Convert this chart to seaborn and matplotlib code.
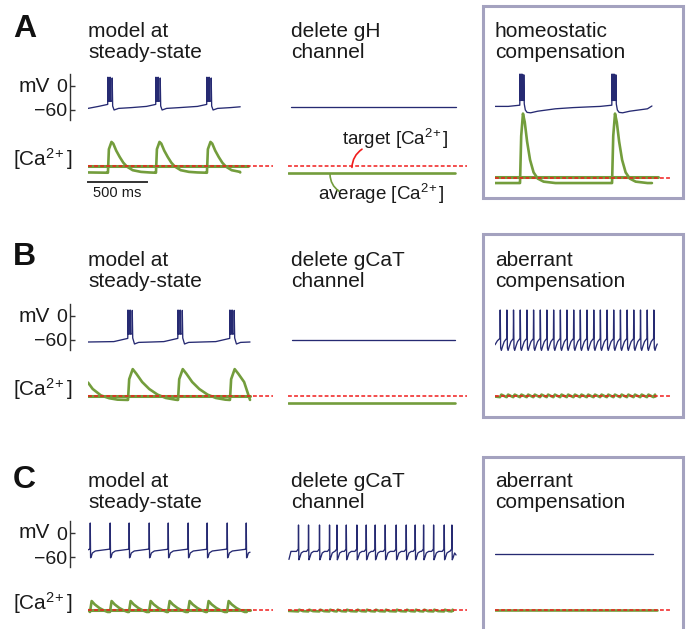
import numpy as np
import matplotlib.pyplot as plt
from matplotlib.patches import Rectangle
import seaborn as sns

sns.set_theme(style='white')
plt.rcParams['font.family'] = ['Liberation Sans', 'DejaVu Sans']
plt.rcParams['mathtext.fontset'] = 'custom'
plt.rcParams['mathtext.rm'] = 'Liberation Sans'
plt.rcParams['mathtext.default'] = 'regular'

W, H = 694, 629
PX_PER_MS = 0.118   # 500 ms ~ 59 px
PX_PER_MV = 0.4
PX_PER_CA = 28.0

NAVY = '#262a72'
GREEN = '#739d3c'
RED = '#f01c1c'
BOX = '#a4a2bf'

# ---------------- data (ms, mV, Ca relative to target) ----------------
CA2 = '[Ca$^{2\\!+}$]'
titles = {
    'A': ['model at\nsteady-state', 'delete gH\nchannel', 'homeostatic\ncompensation'],
    'B': ['model at\nsteady-state', 'delete gCaT\nchannel', 'aberrant\ncompensation'],
    'C': ['model at\nsteady-state', 'delete gCaT\nchannel', 'aberrant\ncompensation'],
}

# A: model at steady-state
A1_bursts = [169, 576, 1008]
A1_v_dt = [-80, -2, 0, 3, 16, 18, 21, 34, 36, 40, 52, 90, 200]
A1_v_mv = [-51, -46, 22, -38, -38, 22, -38, -38, 20, -50, -60, -56, -54]
A1_v_start, A1_v_end = [(0, -56)], (1290, -52)
A1_ca_dt = [-5, 0, 8, 30, 45, 70, 100, 130, 160, 210, 280, 350]
A1_ca_val = [0.76, 0.76, 1.6, 1.86, 1.8, 1.55, 1.32, 1.12, 0.98, 0.85, 0.79, 0.77]
A1_ca_start, A1_ca_end = [(0, 0.77)], (1290, 0.77)
A1_avg = (1.0, 1360)

# A: delete gH
A2_v_t, A2_v_mv = [25, 1424], [-52.5, -52.5]
A2_ca_t, A2_ca_val = [0, 1415], [0.75, 0.75]

# A: homeostatic compensation
A3_bursts = [212, 992]
A3_v_dt = [-100, -2, 0, 3, 14, 16, 19, 30, 32, 36, 45, 60, 90, 150, 300, 450, 600]
A3_v_mv = [-51, -48, 30, -36, -36, 30, -36, -36, 28, -45, -60, -66, -67, -63, -57, -54, -52]
A3_v_start, A3_v_end = [(0, -51)], (1330, -50)
A3_ca_dt = [-5, 0, 10, 25, 40, 60, 85, 115, 150, 200, 300]
A3_ca_val = [0.82, 0.82, 2.5, 3.3, 3.0, 2.3, 1.65, 1.2, 0.98, 0.87, 0.82]
A3_ca_start, A3_ca_end = [(0, 0.82)], (1330, 0.82)
A3_avg = (1.05, 1380)

# B: model at steady-state
B1_bursts = [339, 763, 1203]
B1_v_dt = [-120, -2, 0, 3, 16, 18, 21, 34, 36, 40, 55, 90, 200]
B1_v_mv = [-64, -56, 15, -45, -45, 15, -45, -45, 14, -55, -70, -66, -65]
B1_v_start, B1_v_end = [(0, -65)], (1373, -65)
B1_ca_dt = [-5, 0, 10, 40, 70, 120, 180, 250, 320, 400]
B1_ca_val = [0.86, 0.86, 1.6, 1.96, 1.8, 1.5, 1.25, 1.05, 0.93, 0.87]
B1_ca_start = [(0, 1.48), (40, 1.25), (110, 1.02), (180, 0.92), (250, 0.87)]
B1_ca_end = (1373, 0.86)
B1_avg = (1.0, 1373)

# B: delete gCaT
B2_v_t, B2_v_mv = [34, 1415], [-60, -60]
B2_ca_t, B2_ca_val = [0, 1415], [0.75, 0.75]

# B: aberrant compensation (tonic firing)
B3_spikes = [42, 99, 155, 212, 269, 325, 382, 438, 495, 552, 608, 665,
             721, 778, 835, 891, 948, 1004, 1061, 1118, 1174, 1231, 1288, 1344]
B3_v_dt = [0, 2, 6, 12, 22, 36, 52]
B3_v_mv = [-56, 15, -80, -86, -76, -64, -58]
B3_v_start, B3_v_end = [(0, -72), (20, -62)], (1375, -70)
B3_ca_dt = [0, 12, 50]
B3_ca_val = [0.96, 1.05, 0.97]
B3_ca_start, B3_ca_end = [(0, 0.98)], (1360, 0.98)

# C: model at steady-state
C1_spikes = [17, 186, 347, 517, 678, 847, 1008, 1178, 1339]
C1_v_dt = [0, 2, 5, 10, 20, 45, 150]
C1_v_mv = [-40, 25, -62, -60, -50, -45, -41]
C1_v_start, C1_v_end = [(0, -42)], (1373, -48)
C1_ca_dt = [0, 14, 40, 80, 120, 150]
C1_ca_val = [0.93, 1.32, 1.2, 1.07, 0.98, 0.93]
C1_ca_start, C1_ca_end = [(0, 1.0)], (1345, 0.93)
C1_avg = (1.0, 1373)

# C: delete gCaT
C2_spikes = [87, 172, 265, 350, 413, 492, 582, 661, 737, 822, 915, 1000,
             1076, 1147, 1232, 1322, 1387]
C2_v_dt = [-15, 0, 2, 5, 12, 25, 45]
C2_v_mv = [-46, -40, 20, -67, -62, -50, -46]
C2_v_start, C2_v_end = [(8, -66), (25, -46)], (1424, -55)
C2_ca_dt = [0, 8, 40]
C2_ca_val = [0.95, 1.01, 0.96]
C2_ca_start, C2_ca_end = [(0, 0.97)], (1398, 0.97)

# C: aberrant compensation (silent)
C3_v_t, C3_v_mv = [0, 1340], [-52.5, -52.5]
C3_ca_t, C3_ca_val = [0, 1373], [1.0, 1.0]

target_end = [1568, 1517, 1500]

# ---------------- layout (px) ----------------
col_x0 = [88, 288, 495]
title_x = [88, 291, 495]
row_mv0 = {'A': 86, 'B': 316, 'C': 533}
row_target = {'A': [166, 166, 178], 'B': [396, 396, 396], 'C': [610, 610, 610]}
row_base = {'A': 58, 'B': 287, 'C': 508}   # baseline of the 2nd title line
letter_base = {'A': 37, 'B': 265, 'C': 488}
boxes = {'A': (483, 6, 683, 198), 'B': (483, 234, 683, 417), 'C': (483, 457, 683, 640)}

fig = plt.figure(figsize=(W / 100, H / 100), dpi=100)
fig.patch.set_facecolor('white')


def trace(events, dt, vals, start, end):
    t = [p[0] for p in start] + [e + d for e in events for d in dt] + [end[0]]
    y = [p[1] for p in start] + [v for e in events for v in vals] + [end[1]]
    t, y = np.array(t, float), np.array(y, float)
    keep = (t >= start[-1][0]) & (t <= end[0])
    keep[:len(start)] = True
    return t[keep], y[keep]


def px_axes(x0, y_top, y_bot, ylim):
    ax = fig.add_axes([x0 / W, 1 - y_bot / H, 1600 * PX_PER_MS / W, (y_bot - y_top) / H])
    ax.patch.set_visible(False)
    ax._ylim = ylim
    return ax


def finish(ax):
    ax.set_xlim(0, 1600)
    ax.set_ylim(*ax._ylim)
    ax.set_xticks([])
    ax.set_yticks([])
    ax.set_xlabel('')
    ax.set_ylabel('')
    for s in ax.spines.values():
        s.set_visible(False)


def v_axes(row, col):
    y0 = row_mv0[row]
    return px_axes(col_x0[col], y0 - 40 * PX_PER_MV, y0 + 100 * PX_PER_MV, (-100, 40))


def ca_axes(row, col):
    yt = row_target[row][col]
    return px_axes(col_x0[col], yt - 2.5 * PX_PER_CA, yt + 0.5 * PX_PER_CA, (0.5, 3.5))


def line(ax, t, y, color, lw, z=2):
    sns.lineplot(x=np.asarray(t), y=np.asarray(y), ax=ax, color=color, linewidth=lw,
                 sort=False, estimator=None, legend=False, zorder=z)


cells = {
    ('A', 0): dict(v=trace(A1_bursts, A1_v_dt, A1_v_mv, A1_v_start, A1_v_end),
                   ca=trace(A1_bursts, A1_ca_dt, A1_ca_val, A1_ca_start, A1_ca_end), avg=A1_avg),
    ('A', 1): dict(v=(A2_v_t, A2_v_mv), ca=(A2_ca_t, A2_ca_val), avg=None),
    ('A', 2): dict(v=trace(A3_bursts, A3_v_dt, A3_v_mv, A3_v_start, A3_v_end),
                   ca=trace(A3_bursts, A3_ca_dt, A3_ca_val, A3_ca_start, A3_ca_end), avg=A3_avg),
    ('B', 0): dict(v=trace(B1_bursts, B1_v_dt, B1_v_mv, B1_v_start, B1_v_end),
                   ca=trace(B1_bursts, B1_ca_dt, B1_ca_val, B1_ca_start, B1_ca_end), avg=B1_avg),
    ('B', 1): dict(v=(B2_v_t, B2_v_mv), ca=(B2_ca_t, B2_ca_val), avg=None),
    ('B', 2): dict(v=trace(B3_spikes, B3_v_dt, B3_v_mv, B3_v_start, B3_v_end),
                   ca=trace(B3_spikes, B3_ca_dt, B3_ca_val, B3_ca_start, B3_ca_end), avg=None),
    ('C', 0): dict(v=trace(C1_spikes, C1_v_dt, C1_v_mv, C1_v_start, C1_v_end),
                   ca=trace(C1_spikes, C1_ca_dt, C1_ca_val, C1_ca_start, C1_ca_end), avg=C1_avg),
    ('C', 1): dict(v=trace(C2_spikes, C2_v_dt, C2_v_mv, C2_v_start, C2_v_end),
                   ca=trace(C2_spikes, C2_ca_dt, C2_ca_val, C2_ca_start, C2_ca_end), avg=None),
    ('C', 2): dict(v=(C3_v_t, C3_v_mv), ca=(C3_ca_t, C3_ca_val), avg=None),
}

FS = 15
TXT = '#1a1a1a'
for row in ['A', 'B', 'C']:
    # panel letter and boxes
    fig.text(13 / W, 1 - letter_base[row] / H, row, fontsize=23, fontweight='bold',
             ha='left', va='baseline', color='#111111')
    x0, y0, x1, y1 = boxes[row]
    fig.add_artist(Rectangle((x0 / W, 1 - y1 / H), (x1 - x0) / W, (y1 - y0) / H,
                             transform=fig.transFigure, fill=False, ec=BOX, lw=2.2))
    for col in range(3):
        fig.text(title_x[col] / W, 1 - row_base[row] / H, titles[row][col], fontsize=FS,
                 ha='left', va='baseline', color=TXT, linespacing=1.15)
        c = cells[(row, col)]
        axv = v_axes(row, col)
        line(axv, *c['v'], NAVY, 0.95)
        axc = ca_axes(row, col)
        line(axc, *c['ca'], GREEN, 1.9, z=2)
        if c['avg'] is not None:
            lvl, tend = c['avg']
            line(axc, [0, tend], [lvl, lvl], GREEN, 2.2, z=3)
        axc.hlines(1.0, 0, target_end[col], colors=RED, linestyles=(0, (2.5, 1.5)),
                   lw=1.1, zorder=4)
        finish(axv)
        finish(axc)
        if col == 0:
            # voltage scale bar
            axv.spines['left'].set_visible(True)
            axv.spines['left'].set_position(('outward', 18 * 0.72))
            axv.spines['left'].set_bounds(-85, 30)
            axv.spines['left'].set_color('#333333')
            axv.spines['left'].set_linewidth(1.0)
            axv.set_yticks([0, -60])
            axv.set_yticklabels(['0', '\u221260'])
            axv.tick_params(axis='y', left=True, direction='in', length=3.6, width=1.0,
                            color='#333333', pad=2, labelsize=14, labelcolor=TXT)
            axv.annotate('mV', xy=(0, 0), xycoords=('axes fraction', 'data'),
                         xytext=(-38, 0), textcoords='offset pixels',
                         ha='right', va='center', fontsize=FS, color=TXT)
            axc.annotate(CA2, xy=(0, 1.0), xycoords=('axes fraction', 'data'),
                         xytext=(-16, 7), textcoords='offset pixels',
                         ha='right', va='center', fontsize=FS, color=TXT)
            if row == 'A':
                axc.spines['bottom'].set_visible(True)
                axc.spines['bottom'].set_position(('outward', 2 * 0.72))
                axc.spines['bottom'].set_bounds(0, 500)
                axc.spines['bottom'].set_color('#333333')
                axc.spines['bottom'].set_linewidth(1.4)
                axc.annotate('500 ms', xy=(250, 0), xycoords=('data', 'axes fraction'),
                             xytext=(0, -6), textcoords='offset pixels',
                             ha='center', va='top', fontsize=10.5, color=TXT)
        if (row, col) == ('A', 1):
            axc.annotate('target ' + CA2, xy=(458, 1.0), xytext=(0, 21),
                         textcoords='offset pixels', ha='left', va='baseline',
                         fontsize=13.5, color=TXT)
            axc.annotate('', xy=(542, 0.95), xytext=(627, 1.6),
                         arrowprops=dict(arrowstyle='-', color=RED, lw=1.2,
                                         connectionstyle='arc3,rad=0.25',
                                         shrinkA=0, shrinkB=0))
            axc.annotate('average ' + CA2, xy=(254, 1.0), xytext=(0, -34),
                         textcoords='offset pixels', ha='left', va='baseline',
                         fontsize=13.5, color=TXT)
            axc.annotate('', xy=(356, 0.7), xytext=(432, 0.1), annotation_clip=False,
                         arrowprops=dict(arrowstyle='-', color=GREEN, lw=1.2,
                                         connectionstyle='arc3,rad=-0.25',
                                         shrinkA=0, shrinkB=0))

fig.savefig('out.png', dpi=100, facecolor='white')
